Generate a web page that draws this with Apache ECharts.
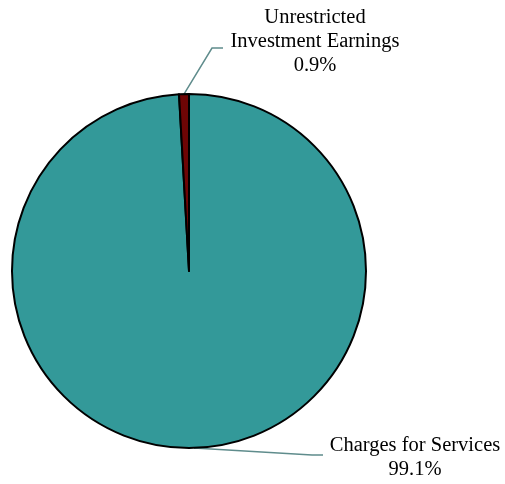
<!DOCTYPE html>
<html>
<head>
<meta charset="utf-8">
<script src="https://cdn.jsdelivr.net/npm/echarts@6/dist/echarts.min.js"></script>
<style>
  html, body { margin: 0; padding: 0; background: #fff; }
  #chart { width: 505px; height: 484px; }
</style>
</head>
<body>
<div id="chart"></div>
<script>
// Revenue sources (percent of total)
const categories = ['Charges for Services', 'Unrestricted\nInvestment Earnings'];
const shares = [99.1, 0.9];
const sliceColors = ['#339999', '#6e0505'];

const chart = echarts.init(document.getElementById('chart'));

chart.setOption({
  animation: false,
  series: [{
    type: 'pie',
    center: [189, 271],
    radius: [0, 177],
    startAngle: 90,
    clockwise: true,
    avoidLabelOverlap: false,
    itemStyle: { borderColor: '#000', borderWidth: 2 },
    label: {
      show: true,
      position: 'outside',
      fontFamily: 'Liberation Serif',
      fontSize: 20.5,
      lineHeight: 24,
      color: '#000',
      align: 'center',
      formatter: p => p.name + '\n' + p.value.toFixed(1) + '%'
    },
    labelLine: {
      show: true,
      lineStyle: { color: '#5f8c8c', width: 1.5 }
    },
    labelLayout: function (p) {
      const a = p.labelLinePoints ? p.labelLinePoints[0] : null;
      if (p.dataIndex === 1) {
        return {
          x: 315, y: 42, align: 'center', verticalAlign: 'middle',
          labelLinePoints: a ? [a, [212, 48], [223, 48]] : undefined
        };
      }
      return {
        x: 415, y: 458, align: 'center', verticalAlign: 'middle',
        labelLinePoints: a ? [a, [312, 455], [323, 455]] : undefined
      };
    },
    data: categories.map((c, i) => ({
      name: c,
      value: shares[i],
      itemStyle: { color: sliceColors[i] }
    }))
  }]
});
</script>
</body>
</html>
